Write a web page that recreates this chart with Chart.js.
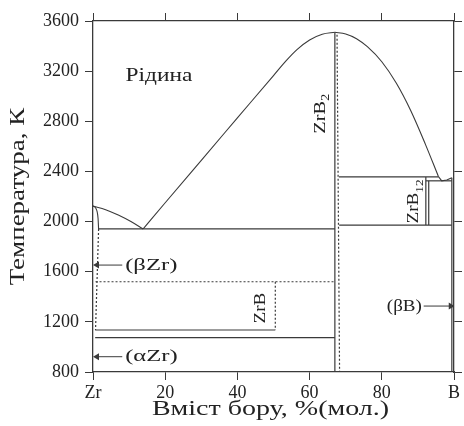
<!DOCTYPE html>
<html>
<head>
<meta charset="utf-8">
<script src="https://cdn.jsdelivr.net/npm/chart.js@4"></script>
<style>
  body { margin: 0; background: #fff; }
  canvas { display: block; }
</style>
</head>
<body>
<canvas id="chart" width="464" height="426"></canvas>
<script>
// точки кривих діаграми стану Zr-B: [вміст бору, %, температура, К]
const liquidusZr = [[0, 2124], [3.5, 2095], [7, 2052], [10.5, 2000], [13.9, 1941]];
const liquidusLeft = [[13.9, 1941], [20, 2150], [30, 2489], [40, 2827], [50, 3165],
  [53.4, 3280], [56.5, 3372], [60, 3449], [63.5, 3495], [67, 3510]];
const liquidusRight = [[67, 3510], [70, 3497], [73, 3459], [76, 3395], [80, 3275],
  [84, 3105], [88, 2886], [92, 2622], [95.7, 2358]];
const liquidusB = [[95.7, 2358], [96.6, 2325], [98, 2332], [99.4, 2350]];
const solidusZr = [[0, 2124], [0.8, 2105], [1.4, 2026], [1.55, 1941]];
const betaZrBorder = [[1.55, 1941], [0.7, 1135]];
const eutectic1941 = [[1.5, 1941], [67, 1941]];
const zrb2Line = [[67, 3510], [67, 800]];
const zrb2Dotted = [[67.6, 3490], [68.3, 800]];
const peritectic2356 = [[68.1, 2356], [95.7, 2356]];
const eutectic2325 = [[92.2, 2325], [99.4, 2325]];
const eutectoid1972 = [[68.2, 1972], [99.4, 1972]];
const zrb12Left = [[92.2, 2356], [92.2, 1972]];
const zrb12Right = [[93.0, 2325], [93.0, 1972]];
const boronLine = [[99.4, 2350], [99.4, 800]];
const dotted1520 = [[0.7, 1520], [67, 1520]];
const zrbDotted = [[50.5, 1520], [50.5, 1135]];
const solid1135 = [[0.6, 1135], [50.5, 1135]];
const solid1075 = [[0.6, 1075], [67, 1075]];
const arrowBetaZr = [[1.1, 1653], [8.1, 1653]];
const arrowAlphaZr = [[1.1, 922], [8.1, 922]];
const arrowBetaB = [[99.1, 1326], [91.6, 1326]];

const xTickLabels = ['Zr', '20', '40', '60', '80', 'B'];
const yTicks = [800, 1200, 1600, 2000, 2400, 2800, 3200, 3600];
const xTitle = 'Вміст бору, %(мол.)';
const yTitle = 'Температура, К';

const INK = '#3a3a3a';
const TEXT = '#222';
const SERIF = '"Liberation Serif", "DejaVu Serif", serif';

function pts(arr) { return arr.map(p => ({ x: p[0], y: p[1] })); }

function line(arr, opts) {
  return Object.assign({
    data: pts(arr), borderColor: INK, borderWidth: 1.2, pointRadius: 0,
    fill: false, tension: 0
  }, opts || {});
}
const curve = { cubicInterpolationMode: 'monotone', borderWidth: 1.1 };
const dotted = { borderDash: [2, 2], borderWidth: 1.2 };

function arrow(arr, rot) {
  return line(arr, {
    borderWidth: 1, pointRadius: [4, 0], pointStyle: 'triangle',
    pointRotation: rot, pointBackgroundColor: INK, pointBorderColor: INK, pointBorderWidth: 0
  });
}

const datasets = [
  line(liquidusZr, curve),
  line(liquidusLeft, curve),
  line(liquidusRight, curve),
  line(liquidusB, { borderWidth: 1.1 }),
  line(solidusZr, curve),
  line(betaZrBorder, dotted),
  line(eutectic1941),
  line(zrb2Line),
  line(zrb2Dotted, dotted),
  line(peritectic2356),
  line(eutectic2325),
  line(eutectoid1972),
  line(zrb12Left),
  line(zrb12Right),
  line(boronLine),
  line(dotted1520, dotted),
  line(zrbDotted, dotted),
  line(solid1135),
  line(solid1075),
  arrow(arrowBetaZr, -90),
  arrow(arrowAlphaZr, -90),
  arrow(arrowBetaB, 90)
];

// текст, трохи розтягнутий по горизонталі, як у скані
function txt(ctx, s, x, y, size, align, stretch, rot) {
  ctx.save();
  ctx.translate(x, y);
  if (rot) ctx.rotate(rot);
  ctx.scale(stretch, 1);
  ctx.fillStyle = TEXT;
  ctx.font = size + 'px ' + SERIF;
  ctx.textAlign = align;
  ctx.textBaseline = 'middle';
  ctx.fillText(s, 0, 0);
  ctx.restore();
}

function vertical(ctx, x, y, main, sub, size, stretch) {
  ctx.save();
  ctx.translate(x, y);
  ctx.rotate(-Math.PI / 2);
  ctx.scale(stretch, 1);
  ctx.fillStyle = TEXT;
  ctx.textBaseline = 'middle';
  ctx.textAlign = 'left';
  const big = size + 'px ' + SERIF, small = Math.round(size * 0.7) + 'px ' + SERIF;
  ctx.font = big;
  const w1 = ctx.measureText(main).width;
  ctx.font = small;
  const w2 = sub ? ctx.measureText(sub).width : 0;
  const start = -(w1 + w2) / 2;
  ctx.font = big;
  ctx.fillText(main, start, 0);
  if (sub) {
    ctx.font = small;
    ctx.fillText(sub, start + w1, size * 0.35);
  }
  ctx.restore();
}

// підписи фаз і осей
const labelPlugin = {
  id: 'phaseLabels',
  afterDatasetsDraw(chart) {
    const { ctx, chartArea } = chart;
    const sx = chart.scales.x, sy = chart.scales.y;
    const px = v => sx.getPixelForValue(v), py = v => sy.getPixelForValue(v);

    txt(ctx, 'Рідина', px(9), py(3160), 18, 'left', 1.3);
    txt(ctx, '(βZr)', px(8.9), py(1653), 17, 'left', 1.45);
    txt(ctx, '(αZr)', px(8.9), py(922), 17, 'left', 1.45);
    txt(ctx, '(βB)', px(91.1), py(1326), 17, 'right', 1.12);

    vertical(ctx, px(62.9), py(2860), 'ZrB', '2', 17, 1.2);
    vertical(ctx, px(89), py(2160), 'ZrB', '12', 16, 1.2);
    vertical(ctx, px(46.6), py(1310), 'ZrB', '', 16, 1.2);

    txt(ctx, xTitle, (chartArea.left + chartArea.right) / 2 - 3, 410, 20, 'center', 1.4);
    txt(ctx, yTitle, 19, (chartArea.top + chartArea.bottom) / 2, 20, 'center', 1.35, -Math.PI / 2);
  }
};

const gridOpts = { drawOnChartArea: false, drawTicks: true, tickLength: 8, color: INK, lineWidth: 1 };
const borderOpts = { display: true, color: INK, width: 1.3 };

new Chart(document.getElementById('chart').getContext('2d'), {
  type: 'line',
  data: { datasets },
  options: {
    responsive: false,
    animation: false,
    devicePixelRatio: 1,
    layout: { padding: 0 },
    plugins: { legend: { display: false }, tooltip: { enabled: false } },
    scales: {
      x: {
        type: 'linear', position: 'bottom', min: 0, max: 100,
        afterFit: s => { s.height = 54; },
        afterBuildTicks: s => { s.ticks = xTickLabels.map((t, i) => ({ value: i * 20 })); },
        ticks: {
          autoSkip: false, maxRotation: 0, padding: 2, color: TEXT,
          font: { family: SERIF, size: 18 },
          callback: (v) => xTickLabels[Math.round(v / 20)]
        },
        grid: gridOpts, border: borderOpts
      },
      x2: {
        type: 'linear', position: 'top', min: 0, max: 100,
        afterFit: s => { s.height = 21; },
        afterBuildTicks: s => { s.ticks = xTickLabels.map((t, i) => ({ value: i * 20 })); },
        ticks: { display: false },
        grid: gridOpts, border: borderOpts
      },
      y: {
        type: 'linear', position: 'left', min: 800, max: 3600,
        afterFit: s => { s.width = 93; },
        afterBuildTicks: s => { s.ticks = yTicks.map(v => ({ value: v })); },
        ticks: {
          autoSkip: false, padding: 6, color: TEXT,
          font: { family: SERIF, size: 18 },
          callback: v => String(v)
        },
        grid: gridOpts, border: borderOpts
      },
      y2: {
        type: 'linear', position: 'right', min: 800, max: 3600,
        afterFit: s => { s.width = 10; },
        afterBuildTicks: s => { s.ticks = yTicks.map(v => ({ value: v })); },
        ticks: { display: false },
        grid: gridOpts, border: borderOpts
      }
    }
  },
  plugins: [labelPlugin]
});
</script>
</body>
</html>
